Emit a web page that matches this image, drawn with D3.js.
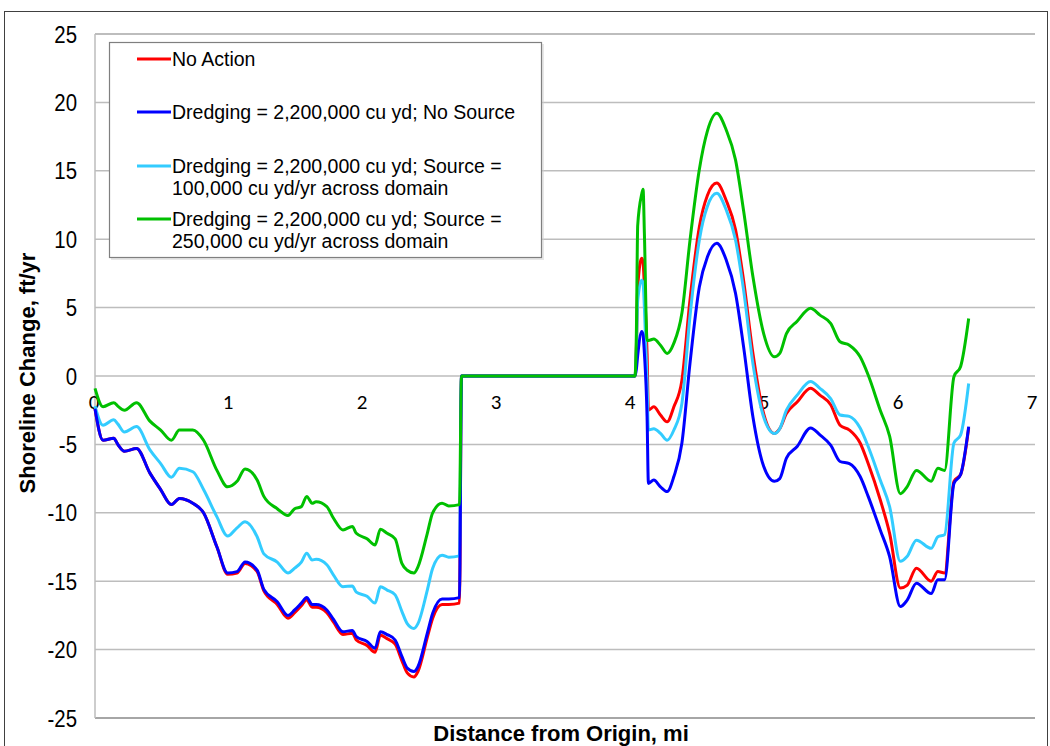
<!DOCTYPE html>
<html><head><meta charset="utf-8">
<script src="https://cdn.jsdelivr.net/npm/d3@7"></script>
<style>html,body{margin:0;padding:0;background:#fff;}svg{display:block;}</style>
</head><body>
<svg id="chart" width="1050" height="746"></svg>
<script>
// ---- data ----
const distance = [0.00,0.06,0.14,0.17,0.22,0.31,0.41,0.49,0.57,0.63,0.73,0.81,0.91,0.99,1.06,1.12,1.21,1.26,1.36,1.44,1.49,1.54,1.58,1.62,1.65,1.73,1.78,1.85,1.92,1.95,2.03,2.09,2.13,2.18,2.24,2.29,2.33,2.38,2.41,2.48,2.52,2.59,2.64,2.72,2.735,
  4.03,4.04,4.05,4.08,4.09,4.10,4.12,4.13,4.17,4.22,4.27,4.32,4.38,4.44,4.51,4.57,4.64,4.71,4.78,4.84,4.91,4.99,5.07,5.11,5.16,5.24,5.34,5.41,5.49,5.56,5.63,5.71,5.77,5.86,5.93,6.01,6.06,6.13,6.24,6.29,6.34,6.41,6.46,6.52];
const noAction = [-2.4,-4.7,-4.55,-5.0,-5.5,-5.3,-7.1,-8.3,-9.4,-8.95,-9.3,-10.0,-12.5,-14.5,-14.4,-13.7,-14.3,-15.7,-16.7,-17.7,-17.3,-16.8,-16.35,-16.9,-16.9,-17.3,-18.0,-18.9,-18.8,-19.3,-19.7,-20.2,-18.95,-19.2,-19.6,-20.8,-21.7,-22.0,-21.6,-19.1,-17.7,-16.7,-16.7,-16.6,0,
  0,2.0,6.5,8.6,8.3,6.5,1.65,-2.5,-2.25,-2.85,-3.35,-2.25,-0.3,5.55,10.9,13.2,14.1,12.85,10.7,7.0,1.65,-2.75,-4.2,-3.85,-2.75,-1.9,-0.9,-1.4,-2.1,-3.6,-3.95,-4.9,-6.4,-9.05,-11.5,-15.5,-15.3,-14.05,-15.0,-14.3,-14.4,-7.7,-7.2,-3.8];
const noSource = [-2.4,-4.7,-4.55,-5.0,-5.5,-5.3,-7.1,-8.3,-9.4,-8.95,-9.3,-10.0,-12.5,-14.4,-14.3,-13.6,-14.2,-15.6,-16.5,-17.5,-17.1,-16.6,-16.2,-16.7,-16.7,-17.1,-17.8,-18.7,-18.6,-19.05,-19.4,-19.9,-18.7,-18.9,-19.3,-20.5,-21.35,-21.6,-21.25,-18.8,-17.35,-16.3,-16.3,-16.2,0,
  0,0.5,1.5,3.25,3.0,1.65,-3.0,-7.85,-7.6,-8.1,-8.45,-7.35,-4.9,0.9,6.5,8.7,9.7,8.5,6.05,2.15,-3.0,-6.6,-7.7,-7.5,-6.0,-5.15,-3.8,-4.3,-5.05,-6.25,-6.4,-7.35,-8.8,-11.25,-13.2,-16.85,-16.4,-15.15,-15.9,-14.9,-14.9,-7.85,-7.2,-3.7];
const source100k = [-2.2,-3.6,-3.2,-3.5,-4.1,-3.7,-5.4,-6.4,-7.4,-6.75,-7.0,-8.3,-10.3,-11.7,-11.1,-10.65,-11.75,-13.0,-13.6,-14.4,-14.05,-13.6,-12.95,-13.45,-13.4,-13.8,-14.55,-15.4,-15.35,-15.8,-16.1,-16.6,-15.4,-15.65,-16.0,-17.2,-18.1,-18.45,-18.1,-15.65,-14.05,-13.1,-13.25,-13.15,0,
  0,1.8,5.5,7.0,6.8,5.0,-0.4,-3.95,-3.85,-4.2,-4.7,-3.95,-2.0,4.35,9.95,12.4,13.35,12.15,9.95,6.3,0.9,-3.0,-4.2,-3.85,-2.5,-1.4,-0.4,-0.9,-1.65,-2.85,-2.95,-3.8,-5.15,-7.6,-9.55,-13.55,-13.2,-12.0,-12.6,-11.75,-11.6,-4.9,-4.3,-0.55];
const source250k = [-0.9,-2.24,-1.95,-2.2,-2.5,-1.95,-3.3,-3.95,-4.7,-3.95,-3.95,-4.7,-6.9,-8.1,-7.7,-6.8,-7.6,-8.8,-9.7,-10.2,-9.7,-9.55,-8.8,-9.3,-9.2,-9.55,-10.4,-11.25,-11.0,-11.5,-11.9,-12.35,-11.2,-11.5,-11.9,-13.7,-14.2,-14.4,-13.95,-11.5,-10.0,-9.3,-9.5,-9.4,0,
  0,3.1,11.0,13.3,13.65,10.4,2.6,2.6,2.7,2.25,1.65,2.4,4.6,9.9,15.1,17.9,19.2,18.0,15.8,12.1,7.25,3.1,1.4,1.65,3.1,4.0,4.95,4.45,3.85,2.5,2.25,1.4,0.07,-2.5,-4.4,-8.6,-8.1,-6.9,-7.7,-6.75,-6.9,-0.05,0.7,4.2];

const seriesNames = ["No Action","Dredging = 2,200,000 cu yd; No Source","Dredging = 2,200,000 cu yd; Source =|100,000 cu yd/yr across domain","Dredging = 2,200,000 cu yd; Source =|250,000 cu yd/yr across domain"];
const seriesColors = ["#ff0000","#0000ff","#33ccff","#00c000"];
const seriesValues = [noAction, noSource, source100k, source250k];
const drawOrder = [0,2,1,3];
const xTicks = [0,1,2,3,4,5,6,7];
const yTicks = [25,20,15,10,5,0,-5,-10,-15,-20,-25];

// ---- layout ----
const svg = d3.select("#chart");
const L = 95, R = 1033, T = 34, B = 718;
const x = d3.scaleLinear().domain([0,7]).range([L,R]);
const y = d3.scaleLinear().domain([-25,25]).range([B,T]);

// outer frame
svg.append("rect").attr("x",4.5).attr("y",11.5).attr("width",1043).attr("height",745)
  .attr("fill","none").attr("stroke","#404040").attr("stroke-width",1);

// gridlines
svg.append("g").selectAll("line").data(yTicks).join("line")
  .attr("x1",L).attr("x2",R+2).attr("y1",d=>y(d)).attr("y2",d=>y(d))
  .attr("stroke",d=>(d===-25)?"#a6a6a6":"#bdbdbd").attr("stroke-width",d=>(d===-25||d===25)?2:1.5);
// left axis line
svg.append("line").attr("x1",L).attr("x2",L).attr("y1",T).attr("y2",B)
  .attr("stroke","#bdbdbd").attr("stroke-width",1.5);

// y tick labels (narrowed)
svg.append("g").selectAll("text").data(yTicks).join("text")
  .attr("transform",d=>`translate(77,${y(d)}) scale(0.85,1)`)
  .attr("dy","0.36em").attr("text-anchor","end")
  .attr("font-family","'Liberation Sans',Arial,sans-serif")
  .attr("font-size",24).attr("fill","#000").text(d=>d);

// x tick labels
svg.append("g").selectAll("text").data(xTicks).join("text")
  .attr("x",d=>x(d)-1).attr("y",y(0)+33).attr("text-anchor","middle")
  .attr("font-family","Carlito,'Open Sans',sans-serif")
  .attr("font-size",21).attr("fill","#000").text(d=>d);

// axis titles
svg.append("text").attr("x",561).attr("y",741).attr("text-anchor","middle")
  .attr("font-family","'Liberation Sans',Arial,sans-serif")
  .attr("font-weight","bold").attr("font-size",22).text("Distance from Origin, mi");
svg.append("text").attr("transform","translate(35,373) rotate(-90)").attr("text-anchor","middle")
  .attr("font-family","'Liberation Sans',Arial,sans-serif")
  .attr("font-weight","bold").attr("font-size",22).text("Shoreline Change, ft/yr");

// lines
const line = d3.line().x(d=>x(d[0])).y(d=>y(d[1])).curve(d3.curveMonotoneX);
const gLines = svg.append("g");
drawOrder.forEach(i=>{
  const pts = distance.map((d,k)=>[d, seriesValues[i][k]]);
  gLines.append("path").attr("d",line(pts)).attr("fill","none")
    .attr("stroke",seriesColors[i]).attr("stroke-width",3).attr("stroke-linejoin","round");
});

// legend
const lg = svg.append("g");
lg.append("rect").attr("x",111).attr("y",44).attr("width",433).attr("height",216).attr("fill","#d0d0d0").attr("opacity",0.5);
lg.append("rect").attr("x",109.5).attr("y",42.5).attr("width",432).attr("height",215)
  .attr("fill","#fff").attr("stroke","#7f7f7f").attr("stroke-width",1.2);
const legY = [59,112,166,219];
seriesNames.forEach((name,i)=>{
  lg.append("line").attr("x1",137).attr("x2",171).attr("y1",legY[i]).attr("y2",legY[i])
    .attr("stroke",seriesColors[i]).attr("stroke-width",3);
  const parts = name.split("|");
  parts.forEach((p,j)=>{
    lg.append("text").attr("x",172).attr("y",legY[i]+j*22).attr("dy","0.36em")
      .attr("font-family","'Liberation Sans',Arial,sans-serif").attr("font-size",19.5)
      .attr("fill","#000").text(p);
  });
});
</script>
</body></html>
